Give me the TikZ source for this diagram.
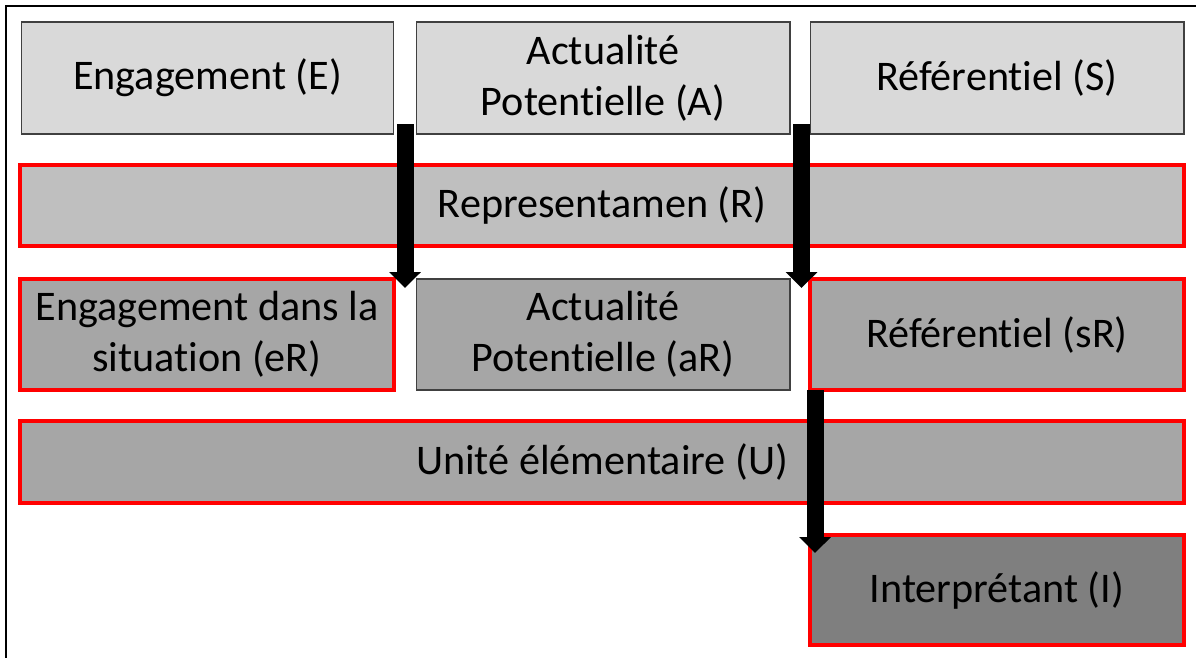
\documentclass[tikz,border=0pt]{standalone}
\usepackage{fontspec}
\setmainfont{Carlito}[Ligatures=NoCommon]
\usepackage{xcolor}
\usetikzlibrary{arrows.meta}

\definecolor{lightbox}{HTML}{D9D9D9}
\definecolor{midbox}{HTML}{BFBFBF}
\definecolor{darkbox}{HTML}{A6A6A6}
\definecolor{deepbox}{HTML}{7F7F7F}
\definecolor{redline}{HTML}{FF0000}

\tikzset{
  cell/.style={rectangle, align=center, inner sep=0pt, text=black,
    font=\fontsize{24}{29}\selectfont},
  plain/.style={cell, draw=black!75, line width=0.6pt},
  marked/.style={cell, draw=redline, line width=2pt},
  bigarrow/.style={line width=0.34cm, -{Triangle[width=0.62cm, length=0.32cm]}}
}

\begin{document}
\begin{tikzpicture}[x=0.02cm, y=-0.02cm]
			\useasboundingbox (0,0) rectangle (1196,657);
			\fill [white] (0,0) rectangle (1196,657);
			% frame
			\draw [line width=1.2pt] (6,660) -- (6,6) -- (1200,6);
			% first row
			\node (E) [plain, fill=lightbox, minimum width=7.46cm, minimum height=2.24cm] at (207.5,78) {Engagement (E)};
			\node (A) [plain, fill=lightbox, minimum width=7.48cm, minimum height=2.24cm] at (603,78) {Actualité\\Potentielle (A)};
			\node (S) [plain, fill=lightbox, minimum width=7.48cm, minimum height=2.24cm] at (997,78) {Référentiel (S)};
			% representamen
			\node (R) [marked, fill=midbox, minimum width=23.28cm, minimum height=1.62cm] at (602,205.5) {Representamen (R)};
			% third row
			\node (eR) [marked, fill=darkbox, minimum width=7.48cm, minimum height=2.22cm] at (207,334.5) {Engagement dans la\\situation (eR)};
			\node (aR) [plain, fill=darkbox, minimum width=7.48cm, minimum height=2.22cm] at (603,334.5) {Actualité\\Potentielle (aR)};
			\node (sR) [marked, fill=darkbox, minimum width=7.48cm, minimum height=2.22cm] at (997,334.5) {Référentiel (sR)};
			% unite
			\node (U) [marked, fill=darkbox, minimum width=23.28cm, minimum height=1.64cm] at (602,462) {Unité élémentaire (U)};
			\node (I) [marked, fill=deepbox, minimum width=7.48cm, minimum height=2.2cm] at (997,590) {Interprétant (I)};
			% arrows
			\coordinate (from1) at (405,124);
			\coordinate (to1) at (405,288);
			\coordinate (from2) at (801.5,124);
			\coordinate (to2) at (801.5,288);
			\coordinate (from3) at (815,390);
			\coordinate (to3) at (815,553);
			\draw [bigarrow] (from1) -- (to1);
			\draw [bigarrow] (from2) -- (to2);
			\draw [bigarrow] (from3) -- (to3);
		\end{tikzpicture}
\end{document}
